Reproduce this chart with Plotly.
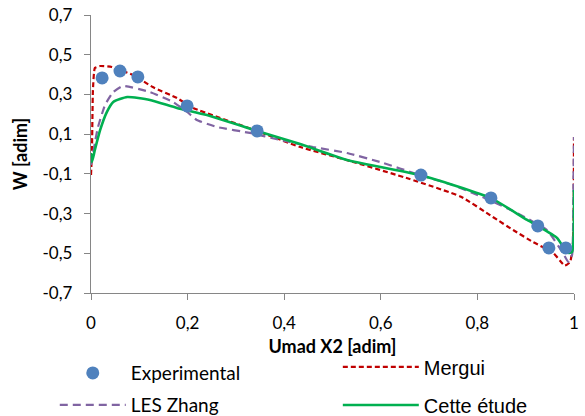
import plotly.graph_objects as go

# ---- data ----
exp_x = [0.023, 0.060, 0.097, 0.199, 0.344, 0.683, 0.828, 0.925, 0.948, 0.983]
exp_y = [0.383, 0.418, 0.388, 0.242, 0.116, -0.106, -0.221, -0.362, -0.473, -0.473]

les_x = [0.0, 0.014, 0.029, 0.046, 0.066, 0.122, 0.170, 0.199, 0.219, 0.261, 0.329,
         0.391, 0.460, 0.530, 0.598, 0.681, 0.749, 0.805, 0.882, 0.944, 0.977, 0.988,
         0.996, 0.999, 1.0]
les_y = [-0.055, 0.131, 0.247, 0.312, 0.343, 0.312, 0.262, 0.212, 0.171, 0.136, 0.106,
         0.071, 0.035, 0.005, -0.040, -0.106, -0.156, -0.211, -0.297, -0.383, -0.498, -0.544,
         -0.508, -0.116, 0.086]

mer_x = [0.0, 0.002, 0.004, 0.008, 0.019, 0.043, 0.087, 0.128, 0.178, 0.211, 0.344,
         0.433, 0.536, 0.660, 0.766, 0.832, 0.874, 0.915, 0.957, 0.981, 0.992, 0.998, 1.0]
mer_y = [-0.106, 0.02, 0.322, 0.433, 0.443, 0.438, 0.398, 0.337, 0.282, 0.232, 0.116,
         0.035, -0.035, -0.126, -0.215, -0.317, -0.383, -0.443, -0.498, -0.562, -0.544,
         -0.448, 0.086]

cet_x = [0.0, 0.002, 0.008, 0.019, 0.033, 0.046, 0.075, 0.122, 0.178, 0.240, 0.344,
         0.433, 0.530, 0.681, 0.743, 0.799, 0.828, 0.903, 0.925, 0.965, 0.975, 0.988,
         0.996, 1.0]
cet_y = [0.005, -0.04, 0.02, 0.121, 0.212, 0.262, 0.287, 0.272, 0.232, 0.196, 0.116,
         0.05, -0.03, -0.106, -0.151, -0.196, -0.221, -0.332, -0.362, -0.423, -0.458, -0.498,
         -0.493, -0.181]

x_tickvals = [0, 0.2, 0.4, 0.6, 0.8, 1]
x_ticktext = ["0", "0,2", "0,4", "0,6", "0,8", "1"]
y_tickvals = [-0.7, -0.5, -0.3, -0.1, 0.1, 0.3, 0.5, 0.7]
y_ticktext = ["-0,7", "-0,5", "-0,3", "-0,1", "0,1", "0,3", "0,5", "0,7"]

AX = "#868686"
FONT = "Lato"

fig = go.Figure()
fig.add_trace(go.Scatter(x=mer_x, y=mer_y, mode="lines", name="Mergui",
                         line=dict(color="#C00000", width=2.2, dash="5px,3px",
                                   shape="spline", smoothing=0.4),
                         legend="legend3"))
fig.add_trace(go.Scatter(x=les_x, y=les_y, mode="lines", name="LES Zhang",
                         line=dict(color="#8064A2", width=2.2, dash="8px,5px",
                                   shape="spline", smoothing=0.4),
                         legend="legend2"))
fig.add_trace(go.Scatter(x=cet_x, y=cet_y, mode="lines", name="Cette étude",
                         line=dict(color="#00B050", width=2.6,
                                   shape="spline", smoothing=0.5),
                         legend="legend4"))
fig.add_trace(go.Scatter(x=exp_x, y=exp_y, mode="markers", name="Experimental",
                         marker=dict(color="#4F81BD", size=13),
                         legend="legend"))

common_axis = dict(showgrid=False, zeroline=False, showline=True, linecolor=AX,
                   linewidth=1.3, ticks="outside", ticklen=6, tickcolor=AX,
                   tickwidth=1.3, automargin=False, ticklabeloverflow="allow",
                   tickfont=dict(family=FONT, size=17, color="#000"))

fig.update_xaxes(range=[0, 1], tickvals=x_tickvals, ticktext=x_ticktext,
                 ticklabelstandoff=8,
                 title=dict(text="<b>Umad X2 [adim]</b>", standoff=8,
                            font=dict(family=FONT, size=18, color="#000")),
                 **common_axis)
fig.update_yaxes(range=[-0.7, 0.7], tickvals=y_tickvals, ticktext=y_ticktext,
                 ticklabelstandoff=8,
                 title=dict(text="<b>W [adim]</b>", standoff=10,
                            font=dict(family=FONT, size=18, color="#000")),
                 **common_axis)

def leg(x, y, size, family, iw):
    return dict(x=x, y=y, xanchor="left", yanchor="middle", xref="paper", yref="paper",
                bgcolor="rgba(0,0,0,0)", itemwidth=iw,
                font=dict(family=family, size=size, color="#000"))

fig.update_layout(
    width=585, height=416,
    margin=dict(l=91, r=11, t=15, b=123, autoexpand=False),
    paper_bgcolor="white", plot_bgcolor="white",
    showlegend=True,
    legend=leg(-0.075, -0.288, 19, FONT, 66),
    legend2=leg(-0.075, -0.403, 19, FONT, 66),
    legend3=leg(0.511, -0.266, 20, "Liberation Sans", 76),
    legend4=leg(0.511, -0.403, 20, "Liberation Sans", 76),
)

# remove the default page margin so the 585x416 figure fills the window exactly
fig.write_html("out.html", config={"displayModeBar": False},
               post_script="document.body.style.margin='0';")
